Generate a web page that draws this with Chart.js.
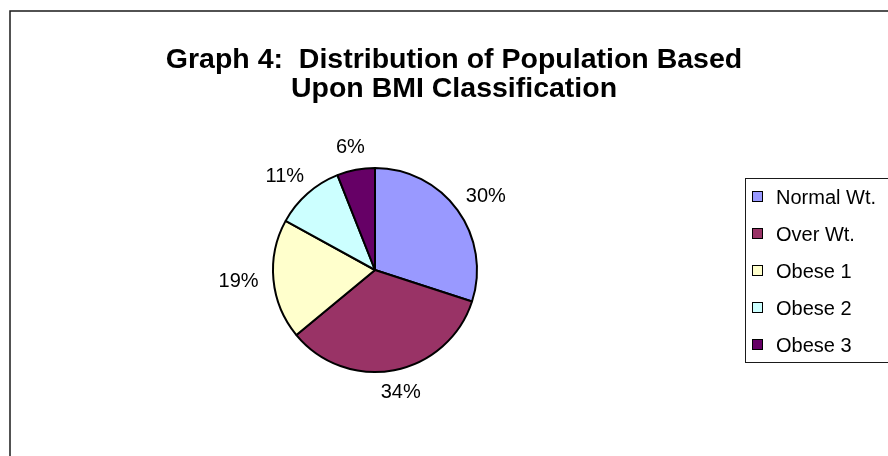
<!DOCTYPE html>
<html>
<head>
<meta charset="utf-8">
<script src="https://cdn.jsdelivr.net/npm/chart.js@4/dist/chart.umd.min.js"></script>
<style>
  html, body { margin: 0; padding: 0; background: #ffffff; }
  #wrap { width: 888px; height: 456px; }
</style>
</head>
<body>
<div id="wrap"><canvas id="c" width="888" height="456"></canvas></div>
<script>
const titleLines = ["Graph 4:  Distribution of Population Based", "Upon BMI Classification"];
const categories = ["Normal Wt.", "Over Wt.", "Obese 1", "Obese 2", "Obese 3"];
const shares = [30, 34, 19, 11, 6];
const sliceColors = ["#9999FF", "#993366", "#FFFFCC", "#CCFFFF", "#660066"];

const FONT = '"Liberation Sans", Arial, Helvetica, sans-serif';

const decorPlugin = {
  id: 'decor',
  beforeDraw(chart) {
    const ctx = chart.ctx;
    ctx.save();
    ctx.fillStyle = '#ffffff';
    ctx.fillRect(0, 0, chart.width, chart.height);
    // outer chart frame (extends past the visible window)
    ctx.strokeStyle = '#1a1a1a';
    ctx.lineWidth = 1.5;
    ctx.strokeRect(10, 11, 2000, 2000);
    // title
    ctx.fillStyle = '#000000';
    ctx.font = 'bold 28.5px ' + FONT;
    ctx.textAlign = 'center';
    ctx.textBaseline = 'alphabetic';
    ctx.fillText(titleLines[0], 454, 68);
    ctx.fillText(titleLines[1], 454, 97);
    ctx.restore();
  },
  afterDatasetsDraw(chart) {
    const ctx = chart.ctx;
    const meta = chart.getDatasetMeta(0);
    const data = chart.data.datasets[0].data;
    const total = data.reduce((a, b) => a + b, 0);
    ctx.save();
    ctx.font = '20px ' + FONT;
    ctx.fillStyle = '#000000';
    ctx.textAlign = 'center';
    ctx.textBaseline = 'middle';
    meta.data.forEach((arc, i) => {
      const p = arc.getProps(['x', 'y', 'startAngle', 'endAngle', 'outerRadius'], true);
      const mid = (p.startAngle + p.endAngle) / 2;
      const dx = Math.cos(mid), dy = Math.sin(mid);
      const txt = Math.round(data[i] / total * 100) + '%';
      const w = ctx.measureText(txt).width;
      const h = 16;
      const d = p.outerRadius + 15;
      const tx = p.x + d * dx + (w / 2) * dx;
      const ty = p.y + d * dy + (h / 2) * dy;
      ctx.fillText(txt, tx, ty);
    });
    ctx.restore();
  },
  afterDraw(chart) {
    const ctx = chart.ctx;
    const labels = chart.data.labels;
    const colors = chart.data.datasets[0].backgroundColor;
    ctx.save();
    // legend box
    ctx.strokeStyle = '#1a1a1a';
    ctx.lineWidth = 1;
    ctx.strokeRect(745.5, 178.5, 300, 184);
    ctx.font = '20px ' + FONT;
    ctx.textAlign = 'left';
    ctx.textBaseline = 'middle';
    labels.forEach((lab, i) => {
      const cy = 197 + i * 37;
      ctx.fillStyle = colors[i];
      ctx.fillRect(752.5, cy - 5.5, 10, 10);
      ctx.strokeStyle = '#000000';
      ctx.strokeRect(752.5, cy - 5.5, 10, 10);
      ctx.fillStyle = '#000000';
      ctx.fillText(lab, 776, cy + 1);
    });
    ctx.restore();
  }
};

new Chart(document.getElementById('c'), {
  type: 'pie',
  data: {
    labels: categories,
    datasets: [{
      data: shares,
      backgroundColor: sliceColors,
      borderColor: '#000000',
      borderWidth: 2
    }]
  },
  options: {
    responsive: false,
    devicePixelRatio: 1,
    animation: false,
    radius: 102,
    layout: { padding: { left: 150, right: 288, top: 134, bottom: 50 } },
    plugins: {
      legend: { display: false },
      tooltip: { enabled: false },
      title: { display: false }
    }
  },
  plugins: [decorPlugin]
});
</script>
</body>
</html>
